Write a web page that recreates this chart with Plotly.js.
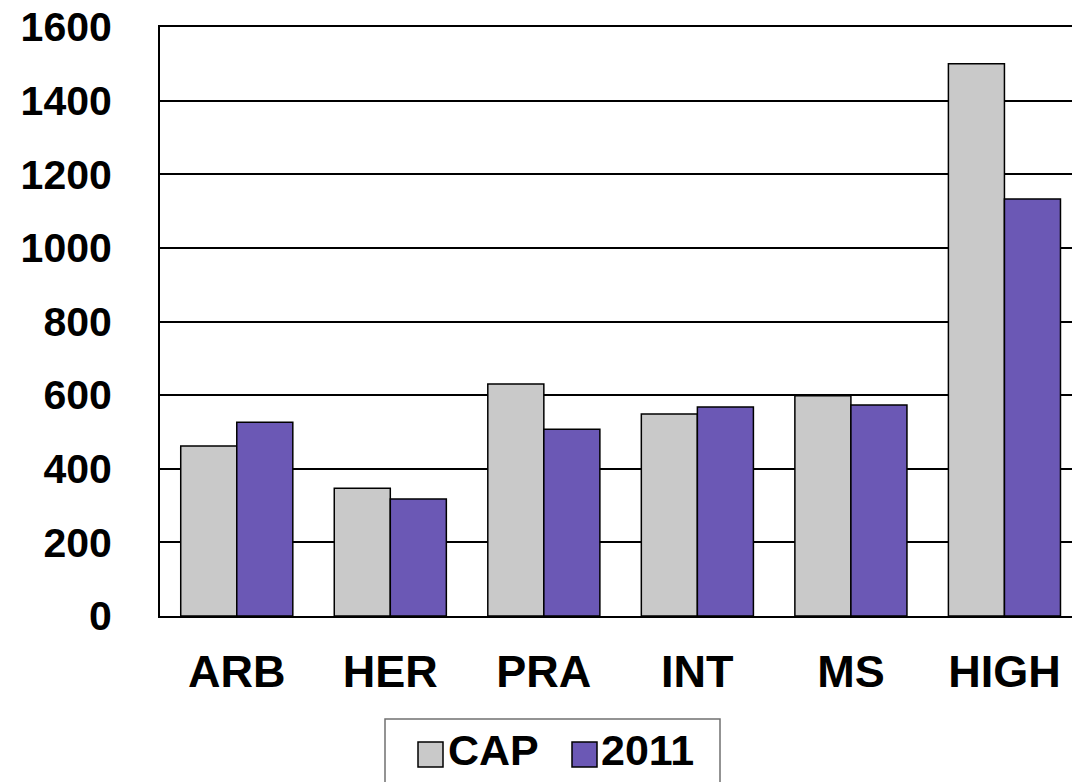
<!DOCTYPE html>
<html>
<head>
<meta charset="utf-8">
<script src="https://cdn.plot.ly/plotly-3.0.1.min.js"></script>
<style>html,body{margin:0;padding:0;background:#fff;}#chart{width:1072px;height:782px;}</style>
</head>
<body>
<div id="chart"></div>
<script>
var categories = ["ARB", "HER", "PRA", "INT", "MS", "HIGH"];
var seriesNames = ["CAP", "2011"];
var capValues = [462, 347, 630, 549, 598, 1500];
var y2011Values = [526, 318, 507, 568, 573, 1133];
var yTickValues = [0, 200, 400, 600, 800, 1000, 1200, 1400, 1600];
var colors = ["#C9C9C9", "#6B58B5"];

var W = 1072, H = 782;
var M = {l: 160, r: 0, t: 27, b: 166};
var pw = W - M.l - M.r, ph = H - M.t - M.b;
function px(x) { return (x - M.l) / pw; }
function py(y) { return (H - M.b - y) / ph; }

var font = "Arial, 'Liberation Sans', Helvetica, sans-serif";

var traces = [
  {type: "bar", name: seriesNames[0], x: categories, y: capValues,
   marker: {color: colors[0], line: {color: "#000", width: 1.5}}, showlegend: false},
  {type: "bar", name: seriesNames[1], x: categories, y: y2011Values,
   marker: {color: colors[1], line: {color: "#000", width: 1.5}}, showlegend: false}
];

// manual legend (large symbols like the reference)
var shapes = [
  {type: "rect", xref: "paper", yref: "paper", x0: px(385), x1: px(720), y0: py(719), y1: py(800),
   line: {color: "#707070", width: 1.5}, fillcolor: "rgba(0,0,0,0)"},
  {type: "rect", xref: "paper", yref: "paper", x0: px(418), x1: px(443), y0: py(742), y1: py(767),
   line: {color: "#000", width: 1.5}, fillcolor: colors[0]},
  {type: "rect", xref: "paper", yref: "paper", x0: px(572), x1: px(597), y0: py(742), y1: py(767),
   line: {color: "#000", width: 1.5}, fillcolor: colors[1]}
];
var annotations = [
  {xref: "paper", yref: "paper", x: px(446), y: py(750), xanchor: "left", yanchor: "middle",
   text: seriesNames[0], showarrow: false, font: {family: font, size: 43, color: "#000", weight: "bold"}},
  {xref: "paper", yref: "paper", x: px(599), y: py(750), xanchor: "left", yanchor: "middle",
   text: seriesNames[1], showarrow: false, font: {family: font, size: 43, color: "#000", weight: "bold"}}
];

var layout = {
  width: W, height: H,
  margin: M,
  paper_bgcolor: "#fff", plot_bgcolor: "#fff",
  barmode: "group", bargap: 0.27, bargroupgap: 0,
  font: {family: font, color: "#000"},
  xaxis: {
    type: "category", range: [-0.5, 5.44],
    showline: true, mirror: true, linecolor: "#000", linewidth: 2,
    showgrid: false, ticks: "", ticklabelstandoff: 15,
    tickfont: {family: font, size: 45, color: "#000", weight: "bold"}
  },
  yaxis: {
    range: [0, 1600], tickvals: yTickValues, ticktext: yTickValues.map(String),
    showline: true, linecolor: "#000", linewidth: 2,
    showgrid: true, gridcolor: "#000", gridwidth: 2,
    zeroline: false, ticks: "", ticklabelstandoff: 38,
    tickfont: {family: font, size: 41, color: "#000", weight: "bold"}
  },
  shapes: shapes,
  annotations: annotations
};

Plotly.newPlot("chart", traces, layout, {staticPlot: true, displayModeBar: false});
</script>
</body>
</html>
